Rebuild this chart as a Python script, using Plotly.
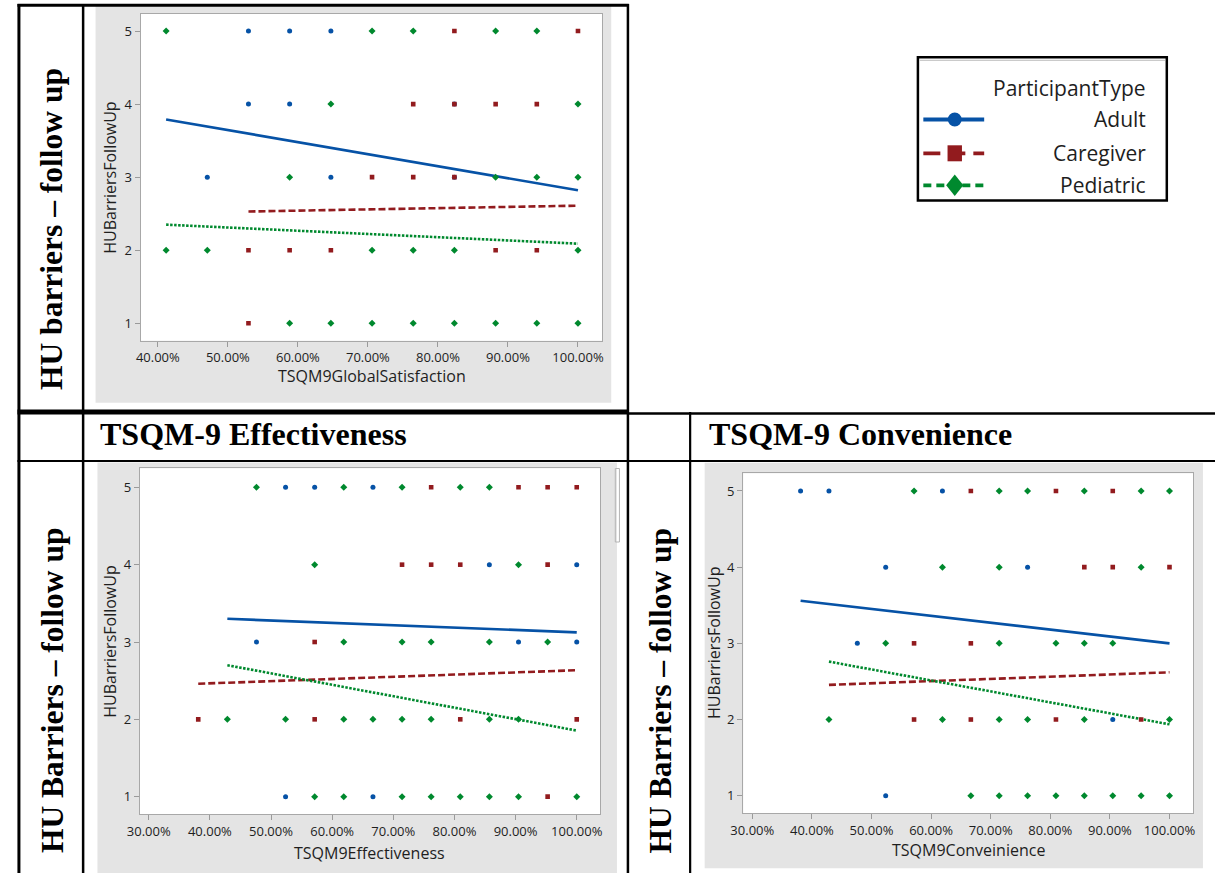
import plotly.graph_objects as go

W, H = 1217, 873

# ---------------- data ----------------
group_names = ["Adult", "Caregiver", "Pediatric"]

# Panel 1: TSQM9GlobalSatisfaction vs HUBarriersFollowUp
gs_adult_x = [52.94, 58.82, 64.71, 52.94, 58.82, 82.35, 47.06, 64.71, 82.35]
gs_adult_y = [5, 5, 5, 4, 4, 4, 3, 3, 3]
gs_care_x = [82.35, 100, 76.47, 82.35, 88.24, 94.12, 70.59, 76.47, 82.35,
             52.94, 58.82, 64.71, 88.24, 94.12, 52.94]
gs_care_y = [5, 5, 4, 4, 4, 4, 3, 3, 3, 2, 2, 2, 2, 2, 1]
gs_ped_x = [41.18, 70.59, 76.47, 88.24, 94.12, 64.71, 100, 58.82, 88.24, 94.12, 100,
            41.18, 47.06, 70.59, 76.47, 82.35, 100,
            58.82, 64.71, 70.59, 76.47, 82.35, 88.24, 94.12, 100]
gs_ped_y = [5, 5, 5, 5, 5, 4, 4, 3, 3, 3, 3,
            2, 2, 2, 2, 2, 2,
            1, 1, 1, 1, 1, 1, 1, 1]
gs_fit_adult_x, gs_fit_adult_y = [41.18, 100], [3.79, 2.82]
gs_fit_care_x, gs_fit_care_y = [52.94, 100], [2.53, 2.61]
gs_fit_ped_x, gs_fit_ped_y = [41.18, 100], [2.35, 2.09]

# Panel 2: TSQM9Effectiveness vs HUBarriersFollowUp
ef_adult_x = [52.38, 57.14, 66.67, 85.71, 100, 47.62, 90.48, 100, 52.38, 66.67]
ef_adult_y = [5, 5, 5, 4, 4, 3, 3, 3, 1, 1]
ef_care_x = [76.19, 90.48, 95.24, 100, 71.43, 76.19, 80.95, 95.24, 57.14,
             38.10, 57.14, 80.95, 100, 95.24]
ef_care_y = [5, 5, 5, 5, 4, 4, 4, 4, 3, 2, 2, 2, 2, 1]
ef_ped_x = [47.62, 61.90, 71.43, 80.95, 85.71, 57.14, 90.48,
            61.90, 71.43, 76.19, 85.71, 95.24,
            42.86, 52.38, 61.90, 66.67, 71.43, 76.19, 85.71, 90.48,
            57.14, 61.90, 71.43, 76.19, 80.95, 85.71, 90.48, 100]
ef_ped_y = [5, 5, 5, 5, 5, 4, 4,
            3, 3, 3, 3, 3,
            2, 2, 2, 2, 2, 2, 2, 2,
            1, 1, 1, 1, 1, 1, 1, 1]
ef_fit_adult_x, ef_fit_adult_y = [42.86, 100], [3.30, 3.125]
ef_fit_care_x, ef_fit_care_y = [38.10, 100], [2.46, 2.635]
ef_fit_ped_x, ef_fit_ped_y = [42.86, 100], [2.70, 1.855]

# Panel 3: TSQM9Conveinience vs HUBarriersFollowUp
cv_adult_x = [38.10, 42.86, 61.90, 52.38, 76.19, 47.62, 90.48, 52.38]
cv_adult_y = [5, 5, 5, 4, 4, 3, 2, 1]
cv_care_x = [66.67, 80.95, 90.48, 85.71, 90.48, 100, 57.14, 66.67,
             57.14, 66.67, 80.95, 95.24]
cv_care_y = [5, 5, 5, 4, 4, 4, 3, 3, 2, 2, 2, 2]
cv_ped_x = [57.14, 71.43, 76.19, 85.71, 95.24, 100, 61.90, 71.43, 95.24,
            52.38, 71.43, 80.95, 85.71, 90.48,
            42.86, 61.90, 71.43, 76.19, 85.71, 100,
            66.67, 71.43, 76.19, 80.95, 85.71, 90.48, 95.24, 100]
cv_ped_y = [5, 5, 5, 5, 5, 5, 4, 4, 4,
            3, 3, 3, 3, 3,
            2, 2, 2, 2, 2, 2,
            1, 1, 1, 1, 1, 1, 1, 1]
cv_fit_adult_x, cv_fit_adult_y = [38.10, 100], [3.56, 3.00]
cv_fit_care_x, cv_fit_care_y = [42.86, 100], [2.455, 2.62]
cv_fit_ped_x, cv_fit_ped_y = [42.86, 100], [2.76, 1.937]

y_tick_values = [1, 2, 3, 4, 5]
x_titles = ["TSQM9GlobalSatisfaction", "TSQM9Effectiveness", "TSQM9Conveinience"]
y_title = "HUBarriersFollowUp"
row_label_top = "HU barriers – follow up"
row_label_bottom = "HU Barriers – follow up"
header_labels = ["TSQM-9 Effectiveness", "TSQM-9 Convenience"]
legend_title = "ParticipantType"

# ---------------- styles ----------------
COLORS = ["#0652A6", "#921B1E", "#00892E"]
SYMBOLS = ["circle", "square", "diamond"]
MSIZES = [5, 4.6, 5.4]
FIT_DASH = ["solid", "7px,3px", "2.5px,1.5px"]
SANS = "Open Sans, Noto Sans, DejaVu Sans, sans-serif"
SERIF = "Liberation Serif, Times New Roman, serif"
TXT = "#1e1e1e"
PANEL_BG = "#E4E4E4"
FRAME = "#A8A8A8"


def fx(px):
    return px / W


def fy(py):
    return 1 - py / H


panels = [
    dict(ax="", frame=(129.3, 596.7, 14.0, 340.7), xr=[37.55, 103.48], yr=[0.762, 5.233],
         bg=(83.6, 605.7, 6.0, 402.7), xt_y=376.0, yt_x=98.6,
         pts=[(gs_adult_x, gs_adult_y), (gs_care_x, gs_care_y), (gs_ped_x, gs_ped_y)],
         fits=[(gs_fit_adult_x, gs_fit_adult_y), (gs_fit_care_x, gs_fit_care_y), (gs_fit_ped_x, gs_fit_ped_y)]),
    dict(ax="2", frame=(128.5, 594.3, 468.3, 814.3), xr=[28.56, 103.8], yr=[0.772, 5.246],
         bg=(85.5, 611.5, 462.5, 873.0), xt_y=852.5, yt_x=98.6,
         pts=[(ef_adult_x, ef_adult_y), (ef_care_x, ef_care_y), (ef_ped_x, ef_ped_y)],
         fits=[(ef_fit_adult_x, ef_fit_adult_y), (ef_fit_care_x, ef_fit_care_y), (ef_fit_ped_x, ef_fit_ped_y)]),
    dict(ax="3", frame=(739.3, 1194.7, 473.3, 813.3), xr=[28.47, 103.94], yr=[0.769, 5.232],
         bg=(700.3, 1204.8, 462.7, 868.3), xt_y=850.0, yt_x=710.4,
         pts=[(cv_adult_x, cv_adult_y), (cv_care_x, cv_care_y), (cv_ped_x, cv_ped_y)],
         fits=[(cv_fit_adult_x, cv_fit_adult_y), (cv_fit_care_x, cv_fit_care_y), (cv_fit_ped_x, cv_fit_ped_y)]),
]

fig = go.Figure()
shapes = []
annotations = []

for p_i, p in enumerate(panels):
    xa, ya = "x" + p["ax"], "y" + p["ax"]
    for g, (fxs, fys) in enumerate(p["fits"]):
        fig.add_trace(go.Scatter(x=fxs, y=fys, mode="lines", xaxis=xa, yaxis=ya,
                                 name=group_names[g] + " fit", showlegend=False, hoverinfo="skip",
                                 line=dict(color=COLORS[g], width=2.6, dash=FIT_DASH[g])))
    for g, (xs, ys) in enumerate(p["pts"]):
        fig.add_trace(go.Scatter(x=xs, y=ys, mode="markers", xaxis=xa, yaxis=ya,
                                 name=group_names[g], showlegend=False,
                                 marker=dict(color=COLORS[g], symbol=SYMBOLS[g], size=MSIZES[g],
                                             line=dict(width=0))))
    x0, x1, y0, y1 = p["frame"]
    axis_common = dict(showgrid=False, zeroline=False, showline=True, mirror=True,
                       linecolor=FRAME, linewidth=1.3, ticks="outside", ticklen=5,
                       tickwidth=1, tickcolor="#9A9A9A",
                       tickfont=dict(family=SANS, size=13, color=TXT))
    fig.layout["xaxis" + p["ax"]] = dict(axis_common, domain=[fx(x0), fx(x1)], range=p["xr"],
                                          anchor=ya, tick0=0, dtick=10, tickformat=".2f",
                                          ticksuffix="%")
    fig.layout["yaxis" + p["ax"]] = dict(axis_common, domain=[fy(y1), fy(y0)], range=p["yr"],
                                          anchor=xa, tickvals=y_tick_values, tickformat="d")
    bx0, bx1, by0, by1 = p["bg"]
    shapes.append(dict(type="rect", xref="paper", yref="paper", layer="below",
                       x0=fx(bx0), x1=fx(bx1), y0=fy(by1), y1=fy(by0),
                       fillcolor=PANEL_BG, line=dict(width=0)))
    shapes.append(dict(type="rect", xref="paper", yref="paper", layer="below",
                       x0=fx(x0), x1=fx(x1), y0=fy(y1), y1=fy(y0),
                       fillcolor="white", line=dict(width=0)))
    annotations.append(dict(text=x_titles[p_i], xref="paper", yref="paper",
                            x=fx((x0 + x1) / 2), y=fy(p["xt_y"]), xanchor="center", yanchor="middle",
                            showarrow=False, font=dict(family=SANS, size=16, color=TXT)))
    annotations.append(dict(text=y_title, xref="paper", yref="paper", textangle=-90,
                            x=fx(p["yt_x"]), y=fy((y0 + y1) / 2), xanchor="center", yanchor="middle",
                            showarrow=False, font=dict(family=SANS, size=16, color=TXT)))

shapes.append(dict(type="rect", xref="paper", yref="paper", layer="above",
                   x0=fx(609.8), x1=fx(614), y0=fy(542), y1=fy(468.5),
                   fillcolor="rgba(0,0,0,0)", line=dict(color="#B4B4B4", width=1)))


def hline(y, xa, xb, w):
    shapes.append(dict(type="line", xref="paper", yref="paper", layer="above",
                       x0=fx(xa), x1=fx(xb), y0=fy(y), y1=fy(y), line=dict(color="black", width=w)))


def vline(x, ya, yb, w):
    shapes.append(dict(type="line", xref="paper", yref="paper", layer="above",
                       x0=fx(x), x1=fx(x), y0=fy(ya), y1=fy(yb), line=dict(color="black", width=w)))


hline(5.3, 4.5, 623.5, 3)
hline(412.0, 4.5, 623.5, 5)
hline(413.5, 622, W, 2.5)
hline(461.0, 4.5, W, 2.2)
vline(6.0, 4, H, 3)
vline(71.0, 4, H, 2.5)
vline(622.6, 4, H, 2.5)
vline(685.6, 412, H, 2.2)

annotations.append(dict(text="<b>%s</b>" % row_label_top, xref="paper", yref="paper", textangle=-90,
                        x=fx(39.5), y=fy(229), xanchor="center", yanchor="middle", showarrow=False,
                        font=dict(family=SERIF, size=31.5, color="black")))
annotations.append(dict(text="<b>%s</b>" % row_label_bottom, xref="paper", yref="paper", textangle=-90,
                        x=fx(39.5), y=fy(691), xanchor="center", yanchor="middle", showarrow=False,
                        font=dict(family=SERIF, size=31.5, color="black")))
annotations.append(dict(text="<b>%s</b>" % row_label_bottom, xref="paper", yref="paper", textangle=-90,
                        x=fx(655.5), y=fy(691), xanchor="center", yanchor="middle", showarrow=False,
                        font=dict(family=SERIF, size=31.5, color="black")))
annotations.append(dict(text="<b>%s</b>" % header_labels[0], xref="paper", yref="paper",
                        x=fx(86.5), y=fy(434), xanchor="left", yanchor="middle", showarrow=False,
                        font=dict(family=SERIF, size=32, color="black")))
annotations.append(dict(text="<b>%s</b>" % header_labels[1], xref="paper", yref="paper",
                        x=fx(702.5), y=fy(434), xanchor="left", yanchor="middle", showarrow=False,
                        font=dict(family=SERIF, size=32, color="black")))

shapes.append(dict(type="rect", xref="paper", yref="paper", layer="above",
                   x0=fx(916.2), x1=fx(1168.2), y0=fy(200.5), y1=fy(57.2),
                   fillcolor="rgba(0,0,0,0)", line=dict(color="black", width=2.5)))
shapes.append(dict(type="line", xref="paper", yref="paper", layer="above",
                   x0=fx(918), x1=fx(1166.5), y0=fy(60.3), y1=fy(60.3),
                   line=dict(color="#BDBDBD", width=1)))
annotations.append(dict(text=legend_title, xref="paper", yref="paper", x=fx(1149), y=fy(88.3),
                        xanchor="right", yanchor="middle", showarrow=False,
                        font=dict(family=SANS, size=21, color=TXT)))
leg_y = [119.5, 153.3, 185.3]
LEG_DASH = ["solid", "17px,8px", "8px,5px"]
for g in range(3):
    yy = leg_y[g]
    shapes.append(dict(type="line", xref="paper", yref="paper", layer="above",
                       x0=fx(921.7), x1=fx(983.3), y0=fy(yy), y1=fy(yy),
                       line=dict(color=COLORS[g], width=3.8, dash=LEG_DASH[g])))
    annotations.append(dict(text=group_names[g], xref="paper", yref="paper", x=fx(1149), y=fy(yy),
                            xanchor="right", yanchor="middle", showarrow=False,
                            font=dict(family=SANS, size=21, color=TXT)))
cx = 953.5
shapes.append(dict(type="circle", xref="paper", yref="paper", layer="above",
                   x0=fx(cx - 7), x1=fx(cx + 7), y0=fy(leg_y[0] + 7), y1=fy(leg_y[0] - 7),
                   fillcolor=COLORS[0], line=dict(width=0)))
shapes.append(dict(type="rect", xref="paper", yref="paper", layer="above",
                   x0=fx(cx - 7.3), x1=fx(cx + 7.3), y0=fy(leg_y[1] + 8), y1=fy(leg_y[1] - 8),
                   fillcolor=COLORS[1], line=dict(width=0)))
dy = leg_y[2]
shapes.append(dict(type="path", xref="paper", yref="paper", layer="above",
                   path="M {a},{b} L {c},{d} L {e},{b} L {c},{f} Z".format(
                       a=fx(cx - 8.7), b=fy(dy), c=fx(cx), d=fy(dy - 10.8), e=fx(cx + 8.7), f=fy(dy + 10.8)),
                   fillcolor=COLORS[2], line=dict(width=0)))

fig.update_layout(width=W, height=H, margin=dict(l=0, r=0, t=0, b=0),
                  paper_bgcolor="white", plot_bgcolor="rgba(0,0,0,0)",
                  showlegend=False, shapes=shapes, annotations=annotations,
                  font=dict(family=SANS, color=TXT))

fig.write_html("out.html", config={"displayModeBar": False},
               post_script="document.body.style.margin='0';document.body.style.overflow='hidden';")
